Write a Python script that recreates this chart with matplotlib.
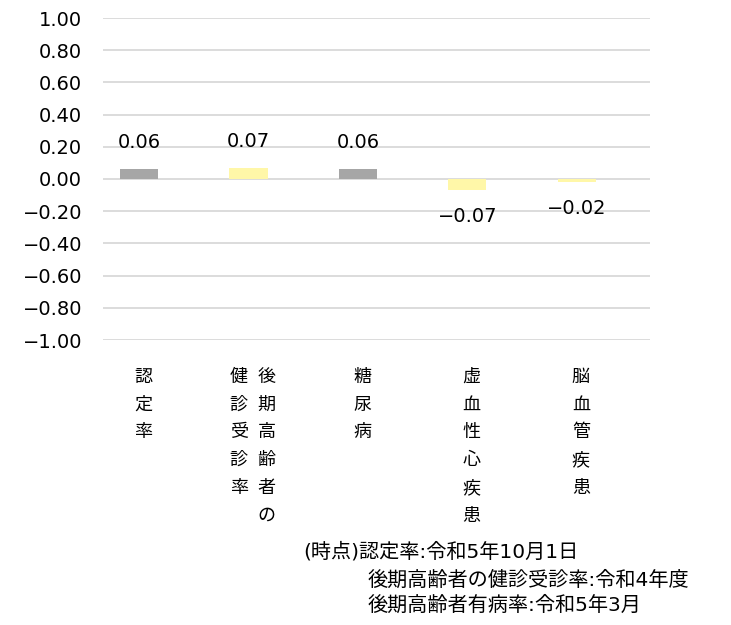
import numpy as np
import matplotlib
matplotlib.use("Agg")
import matplotlib.pyplot as plt
import matplotlib.transforms as mtransforms

plt.rcParams['font.family'] = ['Noto Sans CJK JP', 'DejaVu Sans']

# データ
categories = ['認定率', '後期高齢者の健診受診率', '糖尿病', '虚血性心疾患', '脳血管疾患']
label_columns = [['認定率'], ['後期高齢者の', '健診受診率'], ['糖尿病'], ['虚血性心疾患'], ['脳血管疾患']]
values = [0.06, 0.07, 0.06, -0.07, -0.02]
bar_colors = ['#A6A6A6', '#FFF7A8', '#A6A6A6', '#FFF7A8', '#FFF7A8']
yticks = [1.00, 0.80, 0.60, 0.40, 0.20, 0.00, -0.20, -0.40, -0.60, -0.80, -1.00]
note_lines = ['(時点)認定率:令和5年10月1日',
              '後期高齢者の健診受診率:令和4年度',
              '後期高齢者有病率:令和5年3月']

num_font = ['DejaVu Sans']
mixed_font = ['DejaVu Sans', 'Noto Sans CJK JP']

W, H = 731, 625
fig = plt.figure(figsize=(W / 100, H / 100), dpi=100)
ax = fig.add_axes([103 / W, 1 - 340 / H, (650 - 103) / W, (340 - 18) / H])

x = np.arange(len(categories))
ax.bar(x, values, width=0.35, color=bar_colors, zorder=3)

ax.set_xlim(-0.33, len(categories) - 0.33)
ax.set_ylim(-1, 1)
ax.set_yticks(yticks)
ax.set_yticklabels([f'{v:.2f}'.replace('-', '−') for v in yticks],
                   family=num_font, fontsize=14)
ax.yaxis.grid(True, color='#D9D9D9', linewidth=1.3, zorder=0)
ax.tick_params(axis='y', length=0, pad=15)
ax.set_xticks([])
for s in ax.spines.values():
    s.set_visible(False)

# 値ラベル
for xi, v in zip(x, values):
    off = 19 if v >= 0 else -19
    ax.annotate(f'{v:.2f}'.replace('-', '−'), xy=(xi, v), xytext=(0, off),
                textcoords='offset points', ha='center', va='center',
                fontsize=14, family=num_font)

# 縦書きカテゴリラベル
trans = mtransforms.blended_transform_factory(ax.transData, ax.transAxes)
for xi, cols in zip(x, label_columns):
    n = len(cols)
    for j, col in enumerate(cols):
        dx = (n - 1) / 2 * 20 - j * 20
        ax.annotate('\n'.join(col), xy=(xi, 0), xycoords=trans,
                    xytext=(dx + 3, -20), textcoords='offset points',
                    ha='center', va='top', fontsize=13, linespacing=1.7,
                    annotation_clip=False)

# 注記
fig.text(303 / W, 1 - 552 / H, note_lines[0], fontsize=14.5, va='center', ha='left', family=mixed_font)
fig.text(368 / W, 1 - 580 / H, note_lines[1], fontsize=14.5, va='center', ha='left', family=mixed_font)
fig.text(368 / W, 1 - 605 / H, note_lines[2], fontsize=14.5, va='center', ha='left', family=mixed_font)

fig.savefig('out.png', dpi=100)
